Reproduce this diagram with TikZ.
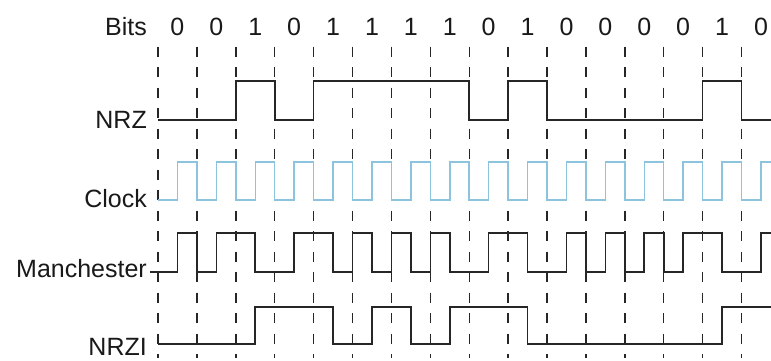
\documentclass[tikz,border=0pt]{standalone}
\usepackage{fontspec}
\setmainfont{Liberation Sans}
\definecolor{clkblue}{HTML}{8CC4DE}
\begin{document}
\begin{tikzpicture}[x=1pt,y=-1pt,
  wave/.style={draw=black!85,line width=1.6pt,line join=miter},
  clk/.style={draw=clkblue,line width=1.5pt},
  gridline/.style={draw=black!85,line width=1.4pt,dash pattern=on 10pt off 10.5pt},
  lbl/.style={anchor=base east,inner sep=0pt,font=\fontsize{25}{30}\selectfont,text=black!90},
  bit/.style={anchor=base,inner sep=0pt,font=\fontsize{25}{30}\selectfont,text=black!90}]
\clip (0,0) rectangle (771,360);
\fill[white] (0,0) rectangle (771,360);
\def\w{38.9}
% dashed bit boundaries
\foreach \k in {0,...,15}{
  \draw[gridline] ({158+\k*\w},46.5) -- ({158+\k*\w},358);
}
% labels
\node[lbl] (bitslbl) at (147,35) {Bits};
\node[lbl] (nrzlbl) at (147,128) {NRZ};
\node[lbl] (clklbl) at (147,207) {Clock};
\node[lbl] (manlbl) at (147,277) {Manchester};
\node[lbl] (nrzilbl) at (147,355) {NRZI};
% bits
\foreach \b [count=\k from 0] in {0,0,1,0,1,1,1,1,0,1,0,0,0,0,1,0}{
  \node[bit] (b\k) at ({158+(\k+0.5)*\w},35) {\b};
}
% NRZ
\draw[wave] (158,120) -| ({158+2*\w},81) -| ({158+3*\w},120) -| ({158+4*\w},81)
  -| ({158+8*\w},120) -| ({158+9*\w},81) -| ({158+10*\w},120) -| ({158+14*\w},81)
  -| ({158+15*\w},120) -- (771,120);
% Clock
\draw[clk] (158,200) foreach \k in {0,...,15}{
  -- ({158+(\k+0.5)*\w},200) -- ({158+(\k+0.5)*\w},162)
  -- ({158+(\k+1)*\w},162) -- ({158+(\k+1)*\w},200) };
% Manchester
\draw[wave] (150,272) foreach \b [count=\k from 0] in {0,0,1,0,1,1,1,1,0,1,0,0,0,0,1,0}{
  -- ({158+\k*\w},{272-39*\b}) -- ({158+(\k+0.5)*\w},{272-39*\b})
  -- ({158+(\k+0.5)*\w},{233+39*\b}) -- ({158+(\k+1)*\w},{233+39*\b}) };
% NRZI
\draw[wave] (158,344) -| ({158+2.5*\w},307) -| ({158+4.5*\w},344) -| ({158+5.5*\w},307)
  -| ({158+6.5*\w},344) -| ({158+7.5*\w},307) -| ({158+9.5*\w},344)
  -| ({158+14.5*\w},307) -- (771,307);
\end{tikzpicture}
\end{document}
